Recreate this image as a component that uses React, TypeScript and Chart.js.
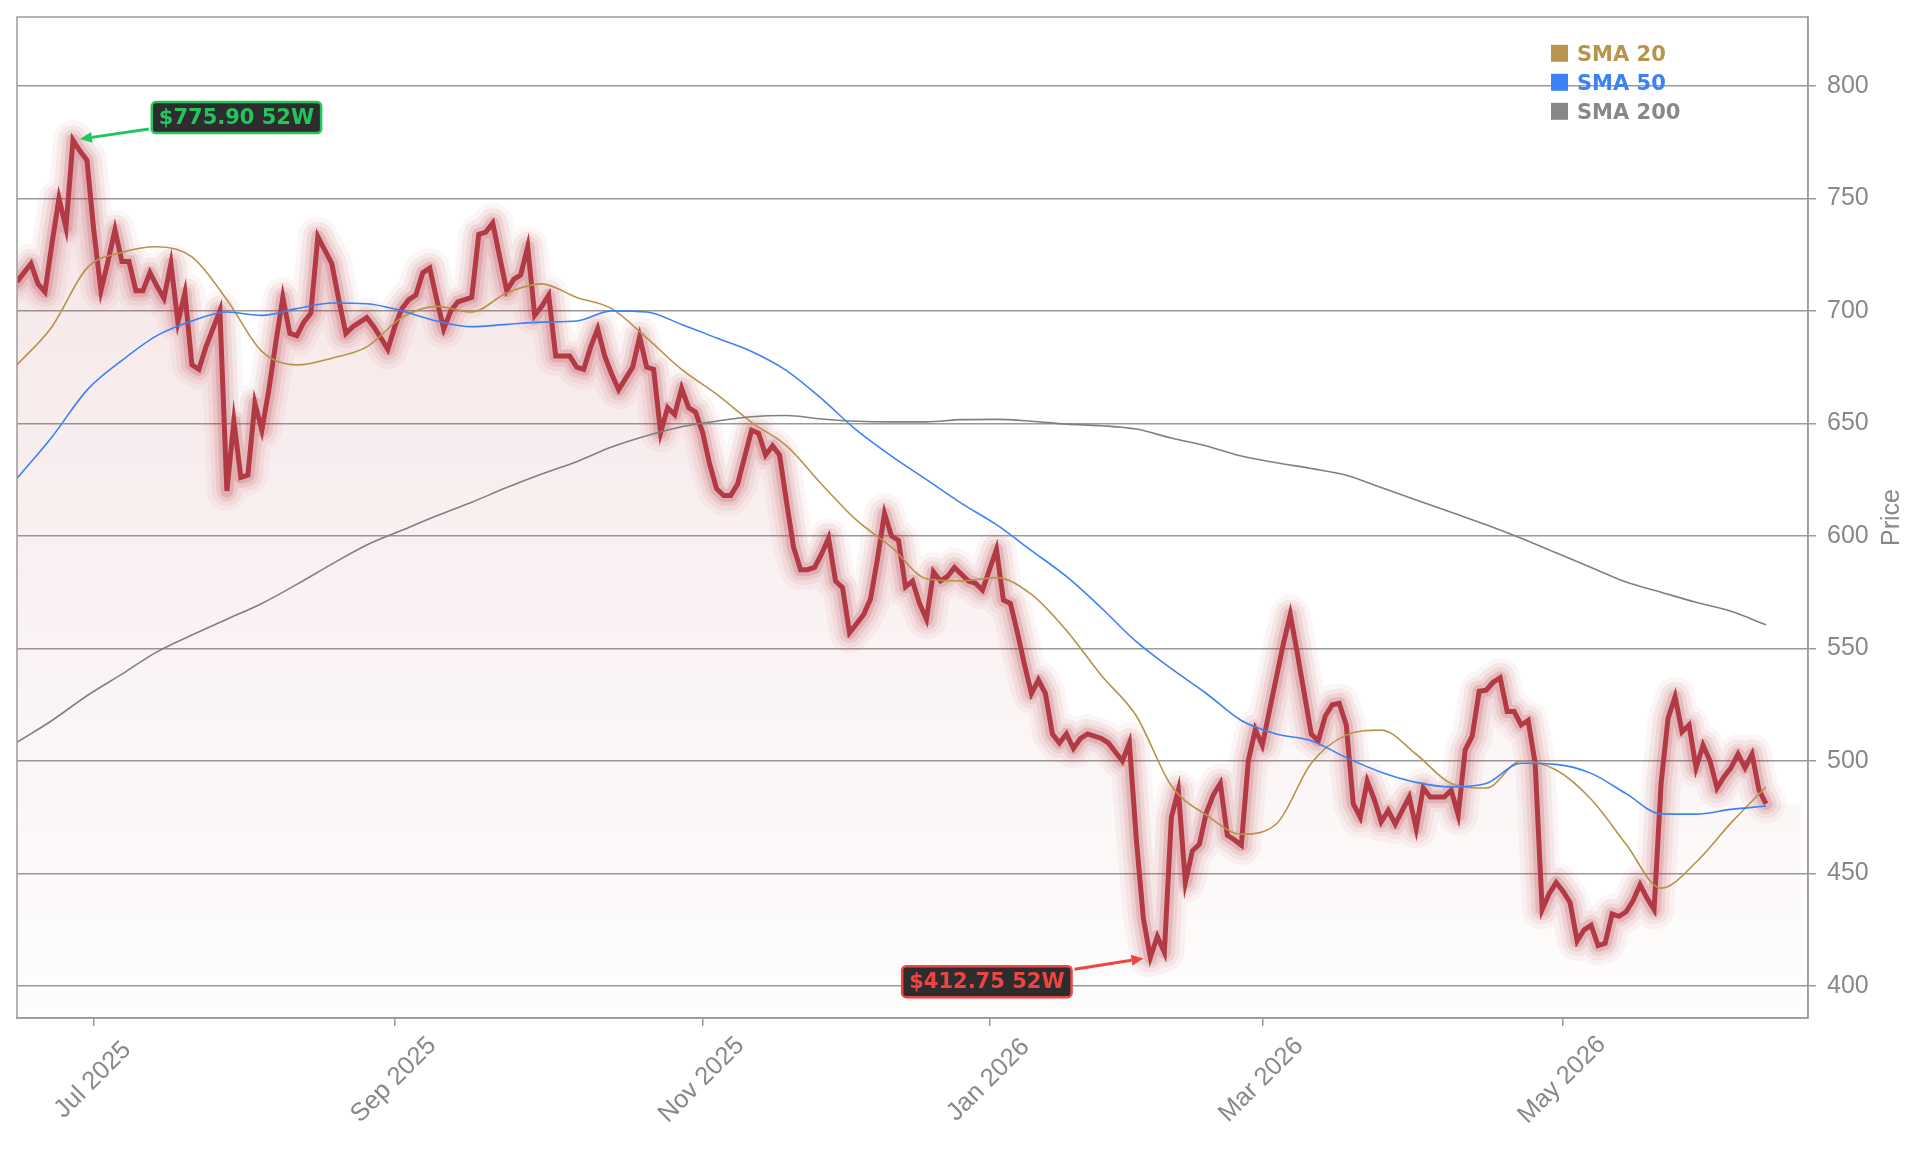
import React, { useEffect, useRef } from 'react';
import { Chart, registerables } from 'chart.js';

Chart.register(...registerables);

// ---- data (trading-day index 0 = 13 Jun 2025) ----
const price: number[] = [
  713, 717, 721, 712, 708.5, 730, 750, 737, 775.9, 771,
  767, 735, 709, 722, 736, 722, 722, 709, 709, 717,
  711, 705.6, 721, 695, 708, 676, 674, 684, 692, 700,
  620, 651, 626, 627, 659, 647, 665, 686, 706, 690,
  689, 695, 699, 733, 727, 721, 705, 690, 693, 695,
  697, 693, 688, 683, 693, 701, 705, 707, 717, 719,
  705, 692, 700, 704, 705, 706, 734, 735, 739, 724,
  709, 714, 716, 728.5, 698, 702, 707, 680, 680, 680,
  675, 674, 684, 692, 680, 672, 665, 670, 675, 688.5,
  675, 674, 646, 657, 654, 665.6, 657, 655, 646, 632,
  621, 618, 618, 623, 635, 647, 645.6, 636, 640, 636,
  615, 595, 585, 585, 586, 592, 599, 580, 577, 557,
  561, 565, 572, 590, 610, 600, 598, 577.4, 580, 570,
  563, 584, 580, 582, 586, 583, 580, 579, 576, 585,
  594, 571.5, 570, 557, 543, 530, 536, 530, 512, 508,
  512, 505.6, 510, 512, 511, 510, 508, 504, 500, 508,
  465, 430, 412.75, 422, 415, 475, 487, 446, 460, 463,
  477, 485, 490, 467, 465, 462.6, 500, 514, 507, 522,
  537, 552, 565, 548, 530, 512, 509, 520, 525, 525.6,
  516, 481, 475, 491, 483, 473, 478, 472, 478, 484,
  470, 488, 484, 484, 484, 487, 476, 505, 511, 531,
  531.5, 535, 537, 522, 522, 516, 518, 499, 434, 441,
  446, 442, 437, 420, 425, 427, 418, 419, 432, 431,
  433, 438, 445, 439, 434, 490, 519, 528.5, 513, 516,
  497, 507, 500, 488, 493, 497, 503, 497, 503, 487,
  481,
];

const smaIdx: number[] = [
  0, 5, 10, 15, 20, 25, 30, 35, 40, 45,
  50, 55, 60, 65, 70, 75, 80, 85, 90, 95,
  100, 105, 110, 115, 120, 125, 130, 135, 140, 145,
  150, 155, 160, 165, 170, 175, 180, 185, 190, 195,
  200, 205, 210, 215, 220, 225, 230, 235, 240, 245,
  250,
];

const sma20: number[] = [
  676, 693, 719, 726, 728.5, 724, 705, 682, 676, 679,
  684, 697, 702, 699.5, 708, 712, 706, 701, 688, 674,
  663, 650.5, 640, 623, 607, 595, 581, 580, 581.5, 574,
  558, 538, 520, 489, 476, 467.5, 472, 499, 511.5, 513.7,
  503, 490, 488, 500, 496, 483, 463, 443.5, 455, 472.5,
  488.5,
];

const sma50: number[] = [
  625.6, 644, 664.8, 678, 689, 695.5, 699.5, 698, 701, 703.5,
  703.2, 700, 695.5, 693, 694, 695, 695.5, 700, 699.5, 694,
  688, 682, 673.5, 661, 647, 635.5, 625, 614.5, 605, 593.5,
  582, 568, 553, 541, 530, 518, 512, 509, 501.5, 495,
  490.5, 488.5, 490, 499, 498.5, 494.5, 485.5, 476.5, 476.4, 478.5,
  480,
];

const sma200: number[] = [
  508.3, 518, 529, 538.6, 548.5, 556, 563, 570, 578.5, 587.5,
  596, 602.5, 609, 615, 621.5, 627.5, 633, 639.5, 644.5, 648.5,
  651, 653, 653.5, 652, 651, 650.7, 650.7, 651.7, 651.8, 651,
  649.7, 649, 647.5, 643.5, 640, 635.5, 632.5, 630, 627, 621.5,
  616, 610.5, 605, 599, 592.5, 586, 579.5, 575, 570.5, 566.5,
  560.5,
];

const xTickIdx: number[] = [11, 54, 98, 139, 178, 221];
const xTickLabels: string[] = ['Jul 2025', 'Sep 2025', 'Nov 2025', 'Jan 2026', 'Mar 2026', 'May 2026'];
const legendLabels: string[] = ['SMA 20', 'SMA 50', 'SMA 200'];

const X_MAX = 256;
const Y_MIN = 385.8;
const Y_MAX = 830.6;

// ---- styles ----
const AXIS_FONT = '"Liberation Sans", Arial, sans-serif';
const BOLD_FONT = '"DejaVu Sans", sans-serif';
const TEXT_GRAY = '#888888';
const GRID_GRAY = '#9a9a9a';
const SMA_COLORS = ['#b8924a', '#3b82f6', '#808080'];
const LEGEND_COLORS = ['#b8944c', '#3b82f6', '#888888'];
const PRICE_COLOR = '#b23a44';
const GLOW_WIDTHS = [40, 30, 21, 13];
const GLOW_ALPHAS = [0.05, 0.07, 0.1, 0.17];

const framePlugin = {
  id: 'frame',
  afterDatasetsDraw(chart: any) {
    const { ctx, chartArea: a } = chart;
    ctx.save();
    ctx.strokeStyle = GRID_GRAY;
    ctx.lineWidth = 1.5;
    ctx.strokeRect(a.left, a.top, a.right - a.left, a.bottom - a.top);
    ctx.restore();
  },
};

const axisTextPlugin = {
  id: 'axisText',
  afterDraw(chart: any) {
    const { ctx, chartArea: a } = chart;
    const xs = chart.scales.x;
    ctx.save();
    ctx.fillStyle = TEXT_GRAY;
    ctx.font = `25.5px ${AXIS_FONT}`;
    ctx.textAlign = 'center';
    ctx.textBaseline = 'middle';
    xTickIdx.forEach((v, k) => {
      const px = xs.getPixelForValue(v);
      ctx.save();
      ctx.translate(px - 1, a.bottom + 62);
      ctx.rotate(-Math.PI / 4);
      ctx.fillText(xTickLabels[k], 0, 0);
      ctx.restore();
    });
    // y axis title
    ctx.font = `25px ${AXIS_FONT}`;
    ctx.save();
    ctx.translate(a.right + 84, (a.top + a.bottom) / 2);
    ctx.rotate(-Math.PI / 2);
    ctx.fillText('Price', 0, 0);
    ctx.restore();
    ctx.restore();
  },
};

const legendPlugin = {
  id: 'smaLegend',
  afterDraw(chart: any) {
    const { ctx, chartArea: a } = chart;
    ctx.save();
    ctx.font = `bold 21px ${BOLD_FONT}`;
    ctx.textAlign = 'left';
    ctx.textBaseline = 'alphabetic';
    legendLabels.forEach((lab, k) => {
      const cy = a.top + 36.3 + k * 29;
      const bx = a.right - 257;
      ctx.fillStyle = LEGEND_COLORS[k];
      ctx.fillRect(bx, cy - 8.5, 17, 17);
      ctx.fillText(lab, bx + 26, cy + 7.5);
    });
    ctx.restore();
  },
};

function drawArrow(ctx: CanvasRenderingContext2D, x1: number, y1: number, x2: number, y2: number, color: string) {
  const ang = Math.atan2(y2 - y1, x2 - x1);
  const hl = 12;
  const hw = 5.5;
  const bx = x2 - hl * Math.cos(ang);
  const by = y2 - hl * Math.sin(ang);
  ctx.strokeStyle = color;
  ctx.fillStyle = color;
  ctx.lineWidth = 3;
  ctx.beginPath();
  ctx.moveTo(x1, y1);
  ctx.lineTo(bx, by);
  ctx.stroke();
  ctx.beginPath();
  ctx.moveTo(x2, y2);
  ctx.lineTo(bx + hw * Math.sin(ang), by - hw * Math.cos(ang));
  ctx.lineTo(bx - hw * Math.sin(ang), by + hw * Math.cos(ang));
  ctx.closePath();
  ctx.fill();
}

function drawTag(ctx: CanvasRenderingContext2D, text: string, cx: number, cy: number, color: string) {
  ctx.font = `bold 21px ${BOLD_FONT}`;
  const w = ctx.measureText(text).width + 14;
  const h = 31;
  const x = cx - w / 2;
  const y = cy - h / 2;
  ctx.beginPath();
  (ctx as any).roundRect(x, y, w, h, 4);
  ctx.fillStyle = '#2d2d2d';
  ctx.fill();
  ctx.lineWidth = 2.5;
  ctx.strokeStyle = color;
  ctx.stroke();
  ctx.fillStyle = color;
  ctx.textAlign = 'center';
  ctx.textBaseline = 'middle';
  ctx.fillText(text, cx, cy + 1);
  return { x, y, w, h };
}

const extremesPlugin = {
  id: 'extremes',
  afterDraw(chart: any) {
    const { ctx } = chart;
    const xs = chart.scales.x;
    const ys = chart.scales.y;
    let hi = 0;
    let lo = 0;
    price.forEach((v, i) => {
      if (v > price[hi]) hi = i;
      if (v < price[lo]) lo = i;
    });
    ctx.save();
    const hx = xs.getPixelForValue(hi);
    const hy = ys.getPixelForValue(price[hi]);
    const hb = drawTag(ctx, `$${price[hi].toFixed(2)} 52W`, hx + 163.5, hy - 22.5, '#22c55e');
    {
      const sx = hb.x - 3;
      const sy = hb.y + hb.h - 4;
      const d = Math.hypot(sx - hx, sy - hy);
      drawArrow(ctx, sx, sy, hx + ((sx - hx) / d) * 7, hy + ((sy - hy) / d) * 7, '#22c55e');
    }
    const lx = xs.getPixelForValue(lo);
    const ly = ys.getPixelForValue(price[lo]);
    const lb = drawTag(ctx, `$${price[lo].toFixed(2)} 52W`, lx - 163.5, ly + 24.3, '#ef4444');
    {
      const sx = lb.x + lb.w + 3;
      const sy = lb.y + 3;
      const d = Math.hypot(sx - lx, sy - ly);
      drawArrow(ctx, sx, sy, lx + ((sx - lx) / d) * 7, ly + ((sy - ly) / d) * 7, '#ef4444');
    }
    ctx.restore();
  },
};

export default function App() {
  const canvasRef = useRef<HTMLCanvasElement | null>(null);

  useEffect(() => {
    const canvas = canvasRef.current;
    if (!canvas) return;
    Chart.defaults.font.family = AXIS_FONT;

    const pricePts = price.map((y, i) => ({ x: i, y }));
    const last = price[price.length - 1];
    const fillPts = [...pricePts];
    for (let i = price.length; i < X_MAX; i++) fillPts.push({ x: i, y: last });

    const glowSets = GLOW_WIDTHS.map((w, k) => ({
      label: `glow${k}`,
      data: pricePts,
      borderColor: `rgba(180,50,62,${GLOW_ALPHAS[k]})`,
      borderWidth: w,
      borderJoinStyle: 'round' as const,
      borderCapStyle: 'round' as const,
      pointRadius: 0,
      fill: false,
      order: 90 - k * 10,
      clip: 0,
    }));

    const smaSet = (vals: number[], k: number) => ({
      label: legendLabels[k],
      data: smaIdx.map((x, j) => ({ x, y: vals[j] })),
      borderColor: SMA_COLORS[k],
      borderWidth: 1.6,
      pointRadius: 0,
      fill: false,
      cubicInterpolationMode: 'monotone' as const,
      order: 3 - k,
      clip: 0,
    });

    const chart = new Chart(canvas, {
      type: 'line',
      data: {
        datasets: [
          {
            label: 'area',
            data: fillPts,
            borderWidth: 0,
            borderColor: 'rgba(0,0,0,0)',
            pointRadius: 0,
            fill: 'start',
            backgroundColor: (c: any) => {
              const { chart: ch } = c;
              const a = ch.chartArea;
              if (!a) return 'rgba(180,60,70,0.08)';
              const g = ch.ctx.createLinearGradient(0, a.top, 0, a.bottom);
              g.addColorStop(0, 'rgba(180,60,70,0.15)');
              g.addColorStop(1, 'rgba(180,60,70,0.01)');
              return g;
            },
            order: 100,
            clip: 0,
          } as any,
          ...glowSets,
          {
            label: 'Price',
            data: pricePts,
            borderColor: PRICE_COLOR,
            borderWidth: 5,
            pointRadius: 0,
            fill: false,
            order: 50,
            clip: 0,
          },
          smaSet(sma200, 2),
          smaSet(sma50, 1),
          smaSet(sma20, 0),
        ],
      },
      options: {
        animation: false,
        responsive: false,
        devicePixelRatio: 1,
        events: [],
        layout: { padding: { left: 17, top: 17, right: 0, bottom: 0 } },
        plugins: {
          legend: { display: false },
          tooltip: { enabled: false },
        },
        scales: {
          x: {
            type: 'linear',
            min: 0,
            max: X_MAX,
            offset: false,
            afterBuildTicks: (axis: any) => {
              axis.ticks = xTickIdx.map((v) => ({ value: v }));
            },
            afterFit: (axis: any) => {
              axis.height = 135;
              axis.paddingLeft = 0;
              axis.paddingRight = 0;
            },
            ticks: { display: false },
            grid: {
              display: true,
              drawOnChartArea: false,
              drawTicks: true,
              tickLength: 8,
              color: GRID_GRAY,
              lineWidth: 1.5,
            },
            border: { display: true, color: GRID_GRAY, width: 1.5 },
          },
          y: {
            type: 'linear',
            position: 'right',
            min: Y_MIN,
            max: Y_MAX,
            afterFit: (axis: any) => {
              axis.width = 113;
              axis.paddingTop = 0;
              axis.paddingBottom = 0;
            },
            ticks: {
              stepSize: 50,
              includeBounds: false,
              color: TEXT_GRAY,
              padding: 11,
              font: { family: AXIS_FONT, size: 25 },
            },
            grid: {
              color: GRID_GRAY,
              lineWidth: 1.5,
              drawTicks: true,
              tickLength: 8,
            },
            border: { display: true, color: GRID_GRAY, width: 1.5 },
          },
        },
      } as any,
      plugins: [framePlugin, axisTextPlugin, legendPlugin, extremesPlugin],
    });

    return () => {
      chart.destroy();
    };
  }, []);

  return (
    <div style={{ position: 'absolute', left: 0, top: 0, width: 1921, height: 1153, background: '#ffffff' }}>
      <canvas ref={canvasRef} width={1921} height={1153} style={{ display: 'block', width: 1921, height: 1153 }} />
    </div>
  );
}
